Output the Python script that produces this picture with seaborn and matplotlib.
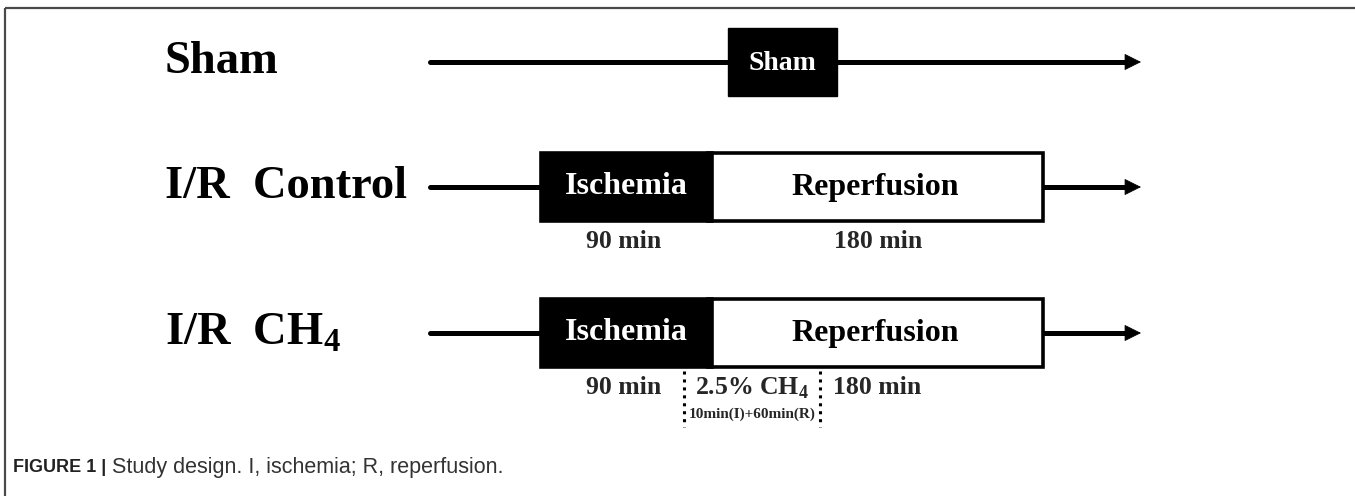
import matplotlib
matplotlib.use("Agg")
import matplotlib.pyplot as plt
from matplotlib.patches import Rectangle
import seaborn as sns
import pandas as pd

# ---------------- data ----------------
groups = ["Sham", "I/R  Control", "I/R  CH$_4$"]
phases = ["Ischemia", "Reperfusion"]
phase_minutes = [90, 180]
duration_labels = ["90 min", "180 min"]
ch4_window = [80, 150]          # minutes: 10 min (I) + 60 min (R)
ch4_label = "2.5% CH$_4$"
ch4_detail = "10min(I)+60min(R)"
sham_box_label = "Sham"
caption_bold = "FIGURE 1 |"
caption_text = " Study design. I, ischemia; R, reperfusion."

# ---------------- style ----------------
sns.set_theme(style="white")
plt.rcParams["font.family"] = ["Liberation Serif", "DejaVu Serif"]
plt.rcParams["mathtext.fontset"] = "custom"
plt.rcParams["mathtext.rm"] = "Liberation Serif:bold"
plt.rcParams["mathtext.bf"] = "Liberation Serif:bold"

W, H = 1355, 496
fig = plt.figure(figsize=(W / 100, H / 100), dpi=100)
ax = fig.add_axes([0, 0, 1, 1])

# layout (pixel space) and time -> x mapping
X0 = 541
PX_PER_MIN = (1043 - 541) / sum(phase_minutes)
def tx(t):
    return X0 + t * PX_PER_MIN

row_y = [62, 187, 333]
box_half = 34
label_x = 165
line_start = 430
arrow_tip = 1141
head_len = 15
LW = 3.6

# frame
ax.plot([5, W], [8, 8], color="#4a4a4a", lw=1.6, solid_capstyle="butt")
ax.plot([5, 5], [8, H], color="#4a4a4a", lw=1.6, solid_capstyle="butt")

# group labels
for g, y in zip(groups, row_y):
    ax.text(label_x, y, g, fontsize=33.5, fontweight="bold", ha="left",
            va="center", color="black")

# timeline lines via seaborn
segs = []
for i, y in enumerate(row_y):
    segs.append({"seg": i, "x": line_start, "y": y})
    segs.append({"seg": i, "x": arrow_tip - head_len + 2, "y": y})
df = pd.DataFrame(segs)
sns.lineplot(data=df, x="x", y="y", units="seg", estimator=None, color="black",
             lw=LW, ax=ax, legend=False, sort=False)
for y in row_y:
    ax.annotate("", xy=(arrow_tip, y), xytext=(arrow_tip - head_len, y),
                arrowprops=dict(arrowstyle="-|>", lw=0.6, color="black",
                                mutation_scale=27, shrinkA=0, shrinkB=0))
ax.set_xlim(0, W)
ax.set_ylim(H, 0)
ax.axis("off")

# Sham box
sy = row_y[0]
ax.add_patch(Rectangle((728, sy - box_half), 109, 2 * box_half,
                       facecolor="black", edgecolor="black", zorder=5))
ax.text(782.5, sy + 1, sham_box_label, fontsize=20, fontweight="bold",
        color="white", ha="center", va="center", zorder=6)

# I/R boxes
t_edges = [0, phase_minutes[0], sum(phase_minutes)]
for y in row_y[1:]:
    ax.add_patch(Rectangle((tx(t_edges[1]), y - box_half),
                           tx(t_edges[2]) - tx(t_edges[1]), 2 * box_half,
                           facecolor="white", edgecolor="black", lw=2.6, zorder=5))
    ax.add_patch(Rectangle((tx(t_edges[0]), y - box_half),
                           tx(t_edges[1]) - tx(t_edges[0]) + 4, 2 * box_half,
                           facecolor="black", edgecolor="black", lw=2.6, zorder=6))
    ax.text((tx(t_edges[0]) + tx(t_edges[1])) / 2 + 2, y, phases[0], fontsize=23,
            fontweight="bold", color="white", ha="center", va="center", zorder=7)
    ax.text((tx(t_edges[1]) + tx(t_edges[2])) / 2, y, phases[1], fontsize=23,
            fontweight="bold", color="black", ha="center", va="center", zorder=7)

# duration labels
lab_off = 55
ax.text(624, row_y[1] + lab_off, duration_labels[0], fontsize=18.5,
        fontweight="bold", ha="center", va="center")
ax.text(878, row_y[1] + lab_off, duration_labels[1], fontsize=18.5,
        fontweight="bold", ha="center", va="center")
ax.text(624, row_y[2] + lab_off, duration_labels[0], fontsize=18.5,
        fontweight="bold", ha="center", va="center")
ax.text(833, row_y[2] + lab_off, duration_labels[1], fontsize=18.5,
        fontweight="bold", ha="left", va="center")

# CH4 window
yb = row_y[2] + box_half + 4
ax.vlines([tx(ch4_window[0]) - 6, tx(ch4_window[1])], yb, yb + 56, colors="black",
          lw=2.2, linestyles=(0, (1, 1.6)))
cx = (tx(ch4_window[0]) - 6 + tx(ch4_window[1])) / 2
ax.text(cx, row_y[2] + lab_off, ch4_label, fontsize=18.5, fontweight="bold",
        ha="center", va="center")
ax.text(cx, row_y[2] + 81, ch4_detail, fontsize=11, fontweight="bold",
        ha="center", va="center")

# caption
t1 = ax.text(13, 468, caption_bold, fontsize=13, fontweight="bold",
             family=["Liberation Sans", "DejaVu Sans"], color="#222222",
             ha="left", va="center")
fig.canvas.draw()
bb = t1.get_window_extent(fig.canvas.get_renderer())
inv = ax.transData.inverted()
x1 = inv.transform((bb.x1, bb.y0))[0]
ax.text(x1, 468, caption_text, fontsize=15.5,
        family=["Liberation Sans", "DejaVu Sans"], color="#333333",
        ha="left", va="center")

fig.savefig("out.png", dpi=100)
